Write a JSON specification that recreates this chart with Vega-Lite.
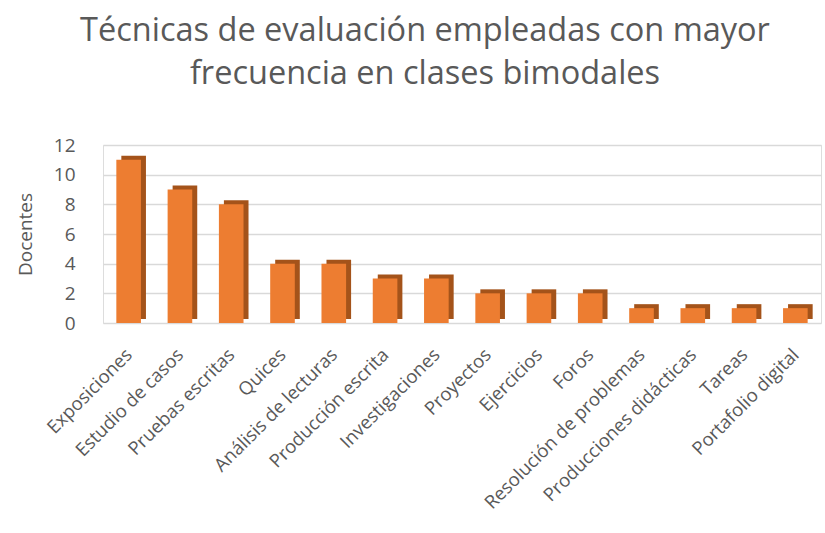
{
  "$schema": "https://vega.github.io/schema/vega-lite/v6.json",
  "width": 718,
  "height": 178,
  "autosize": {"type": "none"},
  "padding": {"left": 103, "top": 145, "right": 4, "bottom": 210},
  "background": "white",
  "title": {
    "text": ["Técnicas de evaluación empleadas con mayor", "frecuencia en clases bimodales"],
    "font": "Open Sans",
    "fontSize": 32.5,
    "fontWeight": "normal",
    "color": "#595959",
    "anchor": "middle",
    "dx": -37,
    "offset": 46,
    "lineHeight": 43
  },
  "data": {
    "values": [
      {"tecnica": "Exposiciones", "docentes": 11},
      {"tecnica": "Estudio de casos", "docentes": 9},
      {"tecnica": "Pruebas escritas", "docentes": 8},
      {"tecnica": "Quices", "docentes": 4},
      {"tecnica": "Análisis de lecturas", "docentes": 4},
      {"tecnica": "Producción escrita", "docentes": 3},
      {"tecnica": "Investigaciones", "docentes": 3},
      {"tecnica": "Proyectos", "docentes": 2},
      {"tecnica": "Ejercicios", "docentes": 2},
      {"tecnica": "Foros", "docentes": 2},
      {"tecnica": "Resolución de problemas", "docentes": 1},
      {"tecnica": "Producciones didácticas", "docentes": 1},
      {"tecnica": "Tareas", "docentes": 1},
      {"tecnica": "Portafolio digital", "docentes": 1}
    ]
  },
  "encoding": {
    "x": {
      "field": "tecnica",
      "type": "nominal",
      "sort": null,
      "scale": {"paddingInner": 0.52, "paddingOuter": 0.26},
      "axis": {
        "title": null,
        "labelAngle": -45,
        "labelFont": "Open Sans",
        "labelFontSize": 18.5,
        "labelColor": "#595959",
        "labelPadding": 22,
        "labelOffset": -6,
        "labelLimit": 400,
        "domain": false,
        "ticks": false
      }
    },
    "y": {
      "field": "docentes",
      "type": "quantitative",
      "scale": {"domain": [0, 12]},
      "axis": {
        "title": "Docentes",
        "titleFont": "Open Sans",
        "titleFontSize": 19,
        "titleFontWeight": "normal",
        "titleColor": "#595959",
        "titlePadding": 18,
        "values": [0, 2, 4, 6, 8, 10, 12],
        "labelFont": "Open Sans",
        "labelFontSize": 19,
        "labelColor": "#595959",
        "labelPadding": 28,
        "domain": false,
        "ticks": false,
        "gridColor": "#d9d9d9",
        "gridWidth": 1.5
      }
    }
  },
  "layer": [
    {
      "mark": {"type": "bar", "color": "#a4531a", "xOffset": 5, "x2Offset": 5, "yOffset": -4, "y2Offset": -4}
    },
    {
      "mark": {"type": "bar", "color": "#ed7d31"}
    }
  ]
}
